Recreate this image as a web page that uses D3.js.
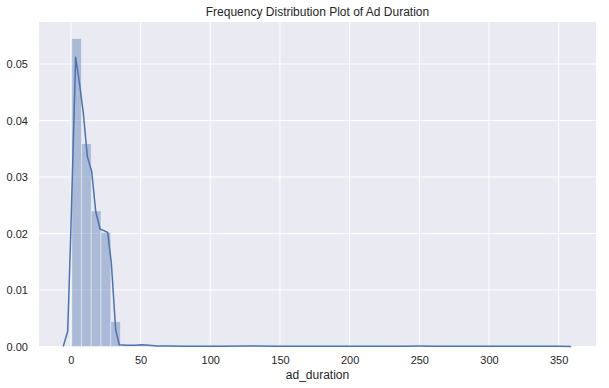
<!DOCTYPE html>
<html lang="en">
<head>
    <meta charset="UTF-8">
    <title>Frequency Distribution Plot of Ad Duration</title>
    <script src="https://cdnjs.cloudflare.com/ajax/libs/d3/7.9.0/d3.min.js"></script>
    <style>
        body { margin: 0; background: white; }
        text { font-family: "Liberation Sans", Arial, sans-serif; fill: #262626; }
    </style>
</head>
<body>
    <svg width="609" height="388"></svg>
    <script>
        // histogram: bins start at binStart, each binWidth wide
        const binStart = 0.6;
        const binWidth = 7.0;
        const binDensity = [0.0545, 0.0359, 0.0240, 0.0202, 0.0044,
            0.0002, 0.0003, 0.0002, 0.0001, 0.0001, 0.0001, 0.0001, 0.0001, 0.0001, 0.0001,
            0, 0, 0.0001, 0.0001, 0, 0.0001, 0, 0, 0, 0.0001,
            0, 0, 0, 0, 0, 0, 0, 0, 0, 0.0001,
            0, 0, 0, 0, 0, 0.0001, 0, 0, 0, 0,
            0, 0, 0.0001, 0, 0.0001];

        // kde curve
        const kdeX = [-5.5, -2.3, -0.1, 3.4, 5.8, 8.9, 11.8, 14.9, 17.8, 20.9, 26.4, 29.0, 32.1, 34.7,
            40, 46, 51, 56, 62, 70, 80, 95, 110, 125, 135, 145, 160, 180, 200, 220, 240, 250, 260,
            280, 300, 320, 330, 340, 350, 359];
        const kdeY = [0, 0.0027, 0.0200, 0.0512, 0.0472, 0.0413, 0.0336, 0.0310, 0.0239, 0.0208, 0.0202, 0.0148, 0.0030, 0.0003,
            0.0002, 0.0002, 0.0003, 0.0002, 0.0001, 0.0001, 0.00005, 0.00005, 0.00006, 0.00008, 0.0001, 0.00006, 0.00004, 0.00004, 0.00003, 0.00004, 0.00006, 0.00008, 0.00006,
            0.00004, 0.00005, 0.00006, 0.00005, 0.00004, 0.00003, 0];

        const xTicks = [0, 50, 100, 150, 200, 250, 300, 350];
        const yTicks = [0, 0.01, 0.02, 0.03, 0.04, 0.05];

        const svg = d3.select("svg");
        const plotLeft = 39, plotRight = 596, plotTop = 22, plotBottom = 346.5;

        const x = d3.scaleLinear().domain([-22.9, 376.8]).range([plotLeft, plotRight]);
        const y = d3.scaleLinear().domain([0, 0.05743]).range([plotBottom, plotTop]);

        svg.append("rect")
            .attr("x", plotLeft).attr("y", plotTop)
            .attr("width", plotRight - plotLeft).attr("height", plotBottom - plotTop)
            .attr("fill", "#EAEAF2");

        // grid
        svg.append("g").selectAll("line").data(xTicks).enter().append("line")
            .attr("x1", d => x(d)).attr("x2", d => x(d))
            .attr("y1", plotTop).attr("y2", plotBottom)
            .attr("stroke", "white").attr("stroke-width", 1);
        svg.append("g").selectAll("line").data(yTicks).enter().append("line")
            .attr("x1", plotLeft).attr("x2", plotRight)
            .attr("y1", d => y(d)).attr("y2", d => y(d))
            .attr("stroke", "white").attr("stroke-width", 1);

        // bars
        svg.append("g").selectAll("rect").data(binDensity).enter().append("rect")
            .attr("x", (d, i) => x(binStart + i * binWidth))
            .attr("width", x(binWidth) - x(0))
            .attr("y", d => y(d))
            .attr("height", d => y(0) - y(d))
            .attr("fill", "#4C72B0").attr("fill-opacity", 0.4)
            .attr("stroke", "white").attr("stroke-opacity", 0.4).attr("stroke-width", 1);

        // kde line
        const line = d3.line().x(d => x(d[0])).y(d => y(d[1]));
        svg.append("path")
            .datum(kdeX.map((v, i) => [v, kdeY[i]]))
            .attr("d", line)
            .attr("fill", "none")
            .attr("stroke", "#4C72B0")
            .attr("stroke-width", 1.5)
            .attr("stroke-linejoin", "round");

        // axes (labels only, seaborn darkgrid has no spines)
        const xAxis = svg.append("g")
            .attr("transform", `translate(0,${plotBottom})`)
            .call(d3.axisBottom(x).tickValues(xTicks).tickSize(0).tickPadding(10).tickFormat(d3.format("d")));
        const yAxis = svg.append("g")
            .attr("transform", `translate(${plotLeft},0)`)
            .call(d3.axisLeft(y).tickValues(yTicks).tickSize(0).tickPadding(11).tickFormat(d3.format(".2f")));
        [xAxis, yAxis].forEach(a => {
            a.select(".domain").remove();
            a.selectAll("text").attr("font-size", "11px")
                .attr("font-family", "Liberation Sans, Arial, sans-serif").attr("fill", "#262626");
        });

        svg.append("text")
            .attr("x", (plotLeft + plotRight) / 2).attr("y", 379)
            .attr("text-anchor", "middle").attr("font-size", "12px")
            .text("ad_duration");

        svg.append("text")
            .attr("x", (plotLeft + plotRight) / 2).attr("y", 16)
            .attr("text-anchor", "middle").attr("font-size", "12px")
            .text("Frequency Distribution Plot of Ad Duration");
    </script>
</body>
</html>
